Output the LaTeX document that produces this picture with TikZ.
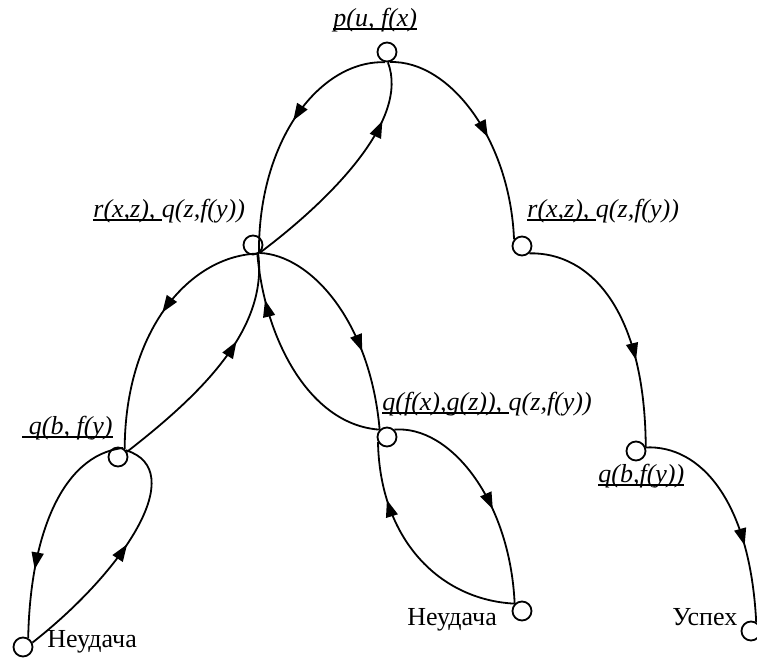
\documentclass[tikz,border=0pt]{standalone}
\usepackage{fontspec}
\setmainfont{Liberation Serif}
\usetikzlibrary{arrows.meta, decorations.markings}
\newcommand{\ulpart}[1]{\setbox0\hbox{#1}\rlap{\rule[-1.4pt]{\wd0}{0.7pt}}\box0}
\tikzset{
	vert/.style={circle, draw, line width=0.9pt, minimum size=9.5pt, inner sep=0pt},
	lbl/.style={anchor=base west, inner sep=0pt, font=\fontsize{13}{15}\selectfont\itshape},
	txt/.style={anchor=base west, inner sep=0pt, font=\fontsize{13}{15}\selectfont},
	edgearr/.style={line width=0.9pt, postaction={decorate, decoration={markings, mark=at position #1 with {\arrow{Triangle[length=8.5pt,width=6pt]}}}}}
}

\begin{document}
\begin{tikzpicture}[x=0.5pt, y=-0.5pt]
	\useasboundingbox (0,0) rectangle (757,662);
	\node [vert] (p) at (387,52) {};
	\node [vert] (r1) at (253,245) {};
	\node [vert] (r2) at (522,246) {};
	\node [vert] (q1) at (118,457) {};
	\node [vert] (q2) at (387,437) {};
	\node [vert] (q3) at (636,451) {};
	\node [vert] (f1) at (23,647) {};
	\node [vert] (f2) at (522,611) {};
	\node [vert] (s) at (751,631) {};
	\node [lbl] (plbl) at (333,27) {\ulpart{p(u, f(x)}};
	\node [lbl] (r1lbl) at (93,218) {\ulpart{r(x,z),\ }q(z,f(y))};
	\node [lbl] (r2lbl) at (527,218) {\ulpart{r(x,z),\ }q(z,f(y))};
	\node [lbl] (q1lbl) at (22,435) {\ulpart{\ q(b, f(y)}};
	\node [lbl] (q2lbl) at (382,411) {\ulpart{q(f(x),g(z)),\ }q(z,f(y))};
	\node [lbl] (q3lbl) at (598,483) {\ulpart{q(b,f(y))}};
	\node [txt] (f1lbl) at (47,648) {Неудача};
	\node [txt] (f2lbl) at (407,626) {Неудача};
	\node [txt] (slbl) at (672,626) {Успех};
	\draw [edgearr=0.45] (p.-100) .. controls (320,60) and (258,140) .. (r1.-55);
	\draw [edgearr=0.75] (r1.-45) .. controls (330,200) and (410,120) .. (p.-85);
	\draw [edgearr=0.55] (p.-75) .. controls (450,60) and (510,140) .. (r2.140);
	\draw [edgearr=0.65] (r2.-45) .. controls (590,252) and (645,310) .. (q3.20);
	\draw [edgearr=0.66] (q3.20) .. controls (700,445) and (750,500) .. (s.60);
	\draw [edgearr=0.45] (r1.-55) .. controls (190,255) and (125,330) .. (q1.50);
	\draw [edgearr=0.63] (q1.30) .. controls (200,395) and (268,330) .. (r1.-60);
	\draw [edgearr=0.65] (r1.-50) .. controls (310,255) and (370,320) .. (q2.135);
	\draw [edgearr=0.8] (q2.135) .. controls (310,425) and (265,340) .. (r1.-65);
	\draw [edgearr=0.7] (q1.60) .. controls (60,455) and (30,540) .. (f1.60);
	\draw [edgearr=0.55] (f1.25) .. controls (125,570) and (190,470) .. (q1.40);
	\draw [edgearr=0.58] (q2.45) .. controls (450,425) and (510,500) .. (f2.135);
	\draw [edgearr=0.75] (f2.135) .. controls (440,600) and (380,540) .. (q2.-150);
\end{tikzpicture}
\end{document}
